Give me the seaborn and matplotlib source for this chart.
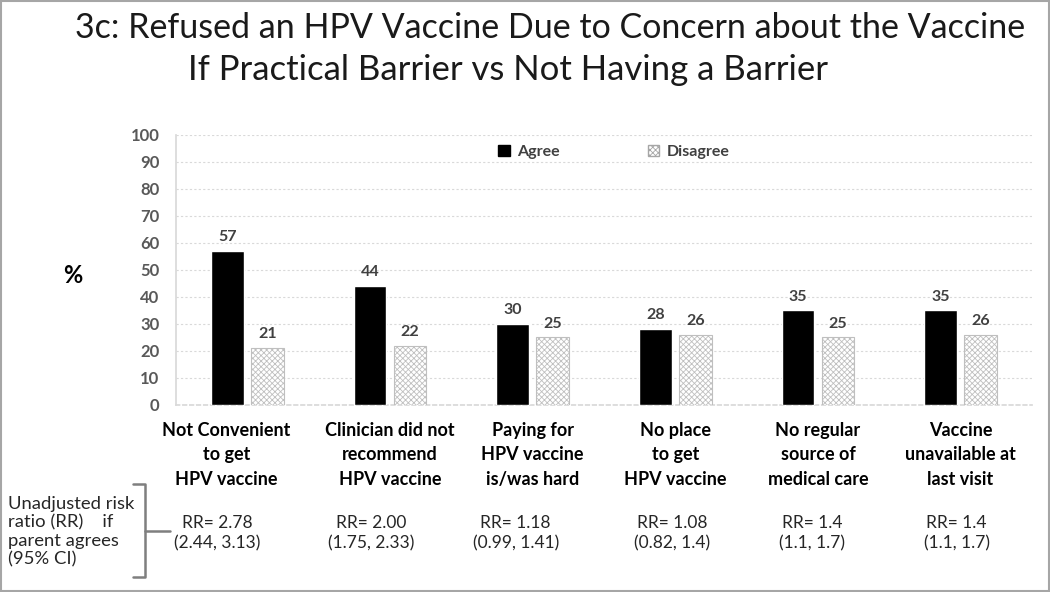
import matplotlib
matplotlib.use("Agg")
import matplotlib.pyplot as plt
import matplotlib.transforms as mtransforms
from matplotlib.patches import Rectangle, Patch
from matplotlib.lines import Line2D
import pandas as pd
import seaborn as sns

# data
categories = [
    "Not Convenient\nto get\nHPV vaccine",
    "Clinician did not\nrecommend\nHPV vaccine",
    "Paying for\nHPV vaccine\nis/was hard",
    "No place\nto get\nHPV vaccine",
    "No regular\nsource of\nmedical care",
    "Vaccine\nunavailable at\nlast visit",
]
agree = [57, 44, 30, 28, 35, 35]
disagree = [21, 22, 25, 26, 25, 26]
rr_text = [
    "RR= 2.78\n(2.44, 3.13)",
    "RR= 2.00\n(1.75, 2.33)",
    "RR= 1.18\n(0.99, 1.41)",
    "RR= 1.08\n(0.82, 1.4)",
    "RR= 1.4\n(1.1, 1.7)",
    "RR= 1.4\n(1.1, 1.7)",
]
series = ["Agree", "Disagree"]

df = pd.DataFrame({
    "category": categories * 2,
    "pct": agree + disagree,
    "response": [series[0]] * len(categories) + [series[1]] * len(categories),
})

sns.set_theme(style="white")
plt.rcParams["font.family"] = ["Lato", "DejaVu Sans"]
plt.rcParams["hatch.linewidth"] = 0.6

fig = plt.figure(figsize=(10.5, 5.92), dpi=100)
ax = fig.add_axes([0.1676, 0.3159, 0.8152, 0.4561])

sns.barplot(data=df, x="category", y="pct", hue="response", order=categories,
            hue_order=series, palette=["black", "white"], width=0.56, gap=0.18,
            saturation=1, ax=ax, legend=False, zorder=3)

# hatched light bars for "Disagree"
for p in ax.containers[1]:
    p.set_facecolor("white")
    p.set_hatch("xxxxxx")
    p.set_edgecolor("#bfbfbf")
    p.set_linewidth(0.8)

for cont in ax.containers:
    ax.bar_label(cont, padding=5, fontsize=11.5, fontweight="bold", color="#404040")

ax.set_ylim(0, 100)
ax.set_xlim(-0.5, len(categories) - 0.5)
ax.set_yticks(range(0, 101, 10))
ax.yaxis.grid(True, linestyle=(0, (2, 2)), color="#d9d9d9", linewidth=0.8, zorder=0)
ax.tick_params(axis="y", labelsize=12, labelcolor="#595959", pad=12, length=0)
for t in ax.get_yticklabels():
    t.set_fontweight("bold")
ax.tick_params(axis="x", labelsize=13, labelcolor="black", pad=12, length=0)
for t in ax.get_xticklabels():
    t.set_fontweight("bold")
    t.set_linespacing(1.55)
# first label sits a little left of its bars in the reference
first = ax.get_xticklabels()[0]
first.set_transform(first.get_transform() +
                    mtransforms.ScaledTranslation(-0.21, 0, fig.dpi_scale_trans))
ax.set_xlabel("")
ax.set_ylabel("")
for s in ["top", "right"]:
    ax.spines[s].set_visible(False)
ax.spines["left"].set_color("#d9d9d9")
ax.spines["bottom"].set_color("#d9d9d9")
ax.spines["bottom"].set_linestyle((0, (2, 2)))

fig.text(0.069, 0.535, "%", fontsize=17, fontweight="bold", ha="center", va="center",
         color="black")

handles = [Patch(facecolor="black", edgecolor="black"),
           Patch(facecolor="white", edgecolor="#a6a6a6", hatch="xxxxxx")]
fig.legend(handles, series, loc="center", bbox_to_anchor=(0.585, 0.743), ncol=2,
           frameon=False, handlelength=0.7, handleheight=0.7, columnspacing=5.5,
           handletextpad=0.5, prop={"weight": "bold", "size": 11.5}, labelcolor="#404040")

fig.text(0.524, 0.953, "3c: Refused an HPV Vaccine Due to Concern about the Vaccine",
         fontsize=24.5, ha="center", va="center", color="#1a1a1a")
fig.text(0.484, 0.882, "If Practical Barrier vs Not Having a Barrier",
         fontsize=25, ha="center", va="center", color="#1a1a1a")

# risk ratios under each group (free text boxes, nudged left like the original)
rr_nudge_px = [-30, -19, -17, -3, -6, -4]
trans = mtransforms.blended_transform_factory(ax.transData, fig.transFigure)
for i, txt in enumerate(rr_text):
    t = ax.text(i, 0.099, txt, transform=trans, ha="center", va="center",
                fontsize=12.5, color="#262626", linespacing=1.35)
    t.set_transform(trans + mtransforms.ScaledTranslation(rr_nudge_px[i] / 100, 0,
                                                          fig.dpi_scale_trans))

fig.text(0.008, 0.102, "Unadjusted risk\nratio (RR)    if\nparent agrees\n(95% CI)",
         ha="left", va="center", fontsize=13.3, color="#262626", linespacing=1.2)

# bracket
bx = [0.127, 0.138, 0.138, 0.127]
by = [1 - 484 / 592, 1 - 484 / 592, 1 - 577 / 592, 1 - 577 / 592]
fig.add_artist(Line2D(bx, by, color="#7f7f7f", linewidth=1.8, transform=fig.transFigure))
fig.add_artist(Line2D([0.138, 0.162], [1 - 531 / 592] * 2, color="#7f7f7f",
                      linewidth=1.8, transform=fig.transFigure))

fig.add_artist(Rectangle((0.001, 0.001), 0.998, 0.997, transform=fig.transFigure,
                         fill=False, edgecolor="#a6a6a6", linewidth=1.5))

fig.savefig("out.png", dpi=100)
